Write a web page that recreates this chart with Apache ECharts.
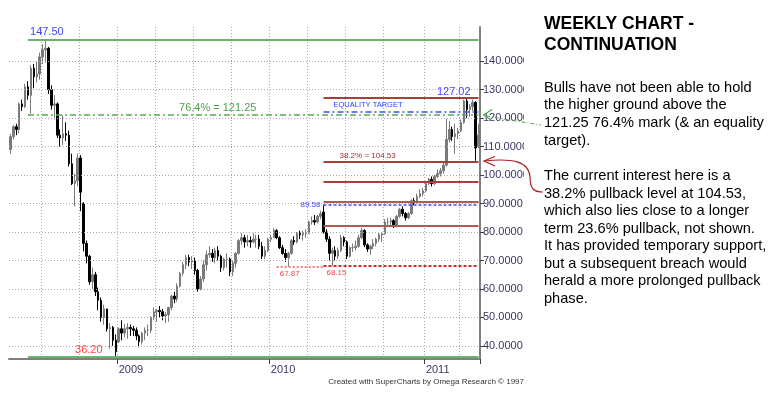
<!DOCTYPE html>
<html>
<head>
<meta charset="utf-8">
<script src="https://cdn.jsdelivr.net/npm/echarts@6/dist/echarts.min.js"></script>
<style>
html, body { margin: 0; padding: 0; background: #fff; }
#chart { width: 777px; height: 399px; }
</style>
</head>
<body>
<div id="chart"></div>
<script>
// weekly bars, Friday dates from startWeek; each bar is [open, close, low, high]
const startWeek = '2008-04-18'

const bars2008 = [
  [109, 113.5, 107.5, 114.5], [113.5, 117, 112.5, 117.5], [117, 116, 114, 118], [116, 125, 114.6, 125.5],
  [125, 124, 122.5, 126.5], [124, 131, 123.5, 132], [131, 128, 126.5, 133], [128, 137.5, 121.6, 138.5],
  [137.5, 134.5, 130.5, 139], [134.5, 135.5, 132.5, 140], [135.5, 141.5, 133.5, 143], [141.5, 144, 139, 146],
  [144, 144.5, 139.5, 147.5], [144.5, 130, 128.5, 145], [130, 124.5, 123, 131.5], [124.5, 125, 119.5, 128],
  [125, 114, 113, 125.5], [114, 113, 110, 116], [113, 114.5, 110.5, 121], [114.5, 114, 112, 118.5],
  [114, 104, 103, 115.6], [104, 97, 96.5, 107.5], [97, 98, 89, 100.5], [98, 106, 96, 107.5],
  [106, 94, 87.3, 107], [90, 76, 73.2, 90.5], [76, 71.5, 69, 77], [71.5, 62.5, 61.5, 72],
  [62.5, 65, 60, 67.5], [65, 59, 57.5, 66], [59, 56, 52.5, 60.5], [56, 50, 48.5, 57],
  [50, 53, 47.4, 54.5], [53, 46, 45, 53], [46, 46.5, 39, 48], [46.5, 42, 40, 47],
  [42, 38, 36.2, 44]
]

const bars2009 = [
  [41.5, 46, 41, 46.5], [46, 44.5, 42, 49], [44.5, 46, 43, 47.7], [46, 46.5, 42.5, 48],
  [46.5, 46, 43.5, 47.5], [46, 45.5, 43.5, 47], [45.5, 43.5, 42, 46.5], [43.5, 41.5, 39.5, 44],
  [41.5, 44.5, 40.5, 45], [44.5, 45.5, 42, 46.5], [45.5, 45.5, 43.5, 47.5], [45.5, 50, 44.5, 50.5],
  [50, 52, 49, 53.5], [52, 52.5, 48.5, 53], [52.5, 52, 50, 54], [52, 50.5, 49, 53],
  [50.5, 51, 48, 52], [51, 53.5, 48.5, 53.5], [53.5, 57.5, 52.5, 58], [57.5, 56.5, 55, 59],
  [56.5, 61, 55.5, 62], [61, 65.5, 60.5, 66], [65.5, 68.5, 64.5, 69.5], [68.5, 71, 67, 72],
  [71, 69.5, 68, 72], [69.5, 70, 67, 71.5], [70, 66.5, 65, 71], [66.5, 60, 59, 67],
  [60, 63.5, 59.5, 64.5], [63.5, 68.5, 62.5, 70], [68.5, 72, 66.5, 73.5], [72, 72.5, 71, 75],
  [72.5, 71, 69.5, 74], [71, 73.5, 69, 74.5], [73.5, 71.5, 70, 75], [71.5, 67.5, 66, 72],
  [67.5, 70.5, 66.5, 71], [70.5, 70.5, 67.5, 72.5], [70.5, 66, 64.5, 71], [66, 69, 64.5, 70],
  [69, 72.5, 67.5, 73], [72.5, 77, 72, 77.5], [77, 78, 75.5, 79.6], [78, 76.5, 74.5, 79],
  [76.5, 77, 75, 79], [77, 76.5, 74.5, 78.5], [76.5, 77.5, 76, 79.5], [77.5, 77.5, 74.5, 79],
  [77.5, 75, 74, 79], [75, 71.5, 70.5, 76.5], [71.5, 73.5, 70.5, 75], [73.5, 77.5, 73, 78]
]

const bars2010 = [
  [77.5, 78, 76.5, 79], [78, 80.5, 78, 81.3], [80.5, 78, 77.5, 81], [78, 74.5, 74, 78.5],
  [74.5, 72.5, 72, 75.5], [72.5, 71, 69.5, 74], [71, 72.5, 67.87, 73], [72.5, 77, 72, 77.5],
  [77, 76.5, 75.5, 78.5], [76.5, 79.5, 76, 80], [79.5, 79, 77.5, 80.5], [79, 79.5, 77, 80.5],
  [79.5, 79.5, 78, 81], [79.5, 83.5, 79.5, 84], [83.5, 84, 82.6, 85.5], [84, 83.5, 82.5, 86],
  [83.5, 85.5, 83, 86], [85.5, 86.5, 84.5, 87.5], [87, 80, 79.4, 89.58], [80, 77.5, 76.5, 81],
  [77.5, 72.5, 70, 78.5], [72.5, 73.5, 68.15, 74.5], [73.5, 71.5, 70, 75], [71.5, 73.5, 70.5, 74.5],
  [73.5, 78, 73, 79], [78, 76.5, 75, 78.5], [76.5, 71.5, 70.5, 77], [71.5, 74.5, 71, 75],
  [74.5, 74.5, 73, 76], [74.5, 75, 73.5, 77], [75, 78, 74.5, 79], [78, 80.5, 77.5, 81.4],
  [80.5, 75.5, 74.7, 81], [75.5, 74, 73, 76], [74, 75, 72, 75.5], [75, 76, 74, 77.5],
  [76, 77.5, 75, 78], [77.5, 79, 76.5, 80], [79, 79.5, 76.5, 80], [79.5, 83.5, 79, 84.5],
  [83.5, 83.5, 82, 85], [83.5, 84, 82, 85], [84, 82.5, 81.4, 84.5], [82.5, 85.5, 82, 86],
  [85.5, 88, 85, 88.5], [88, 86.5, 85.5, 89], [86.5, 85, 84, 87], [85, 86.5, 84.5, 87],
  [86.5, 91, 86, 91.5], [91, 90.5, 89.5, 92], [90.5, 92.5, 90, 93.5], [92.5, 93.5, 92, 95],
  [93.5, 94.5, 92.5, 95.5]
]

const bars2011 = [
  [94.5, 97, 94, 97.5], [97, 98.5, 96.5, 99], [98.5, 97, 96, 99.5], [97, 99.5, 96.5, 100],
  [99.5, 100.5, 99, 102], [100.5, 101.5, 99.5, 102.5], [101.5, 103.5, 100.5, 104.5], [103.5, 112.5, 103, 119.8],
  [112.5, 116, 111.5, 119], [116, 113.5, 112, 117], [113.5, 114.5, 107.5, 118], [114.5, 115.5, 112.5, 116.5],
  [115.5, 118.5, 115, 119.5], [118.5, 126, 118, 126.5], [126, 123, 120, 127.02], [123, 124, 120.5, 125],
  [124, 125.5, 122.5, 126.5], [125.5, 109.5, 105, 126], [110, 114, 109.5, 118]
]

const yTicks = [40, 50, 60, 70, 80, 90, 100, 110, 120, 130, 140]

// annotated levels
const peakHigh = 147.50
const crashLow = 36.20
const retrace764 = 121.25
const equalityTarget = 122.3
const fibLevels = [127.02, 104.53, 97.59, 90.64, 82.04]
const swingHigh = 89.58
const lowFeb = 67.87
const lowMay = 68.15

const ohlc = bars2008.concat(bars2009, bars2010, bars2011)
const weeks = []
const t0 = new Date(startWeek + 'T00:00:00Z').getTime()
for (let i = 0; i < ohlc.length; i++) {
  weeks.push(new Date(t0 + i * 7 * 86400000).toISOString().slice(0, 10))
}
const last = weeks[weeks.length - 1]

const isYearStart = (i) => i > 0 && weeks[i].slice(0, 4) !== weeks[i - 1].slice(0, 4)
const quarterOf = (s) => s.slice(0, 4) + Math.floor((+s.slice(5, 7) - 1) / 3)
const isQuarterStart = (i) => i > 0 && quarterOf(weeks[i]) !== quarterOf(weeks[i - 1])

const font = "'Liberation Sans', Arial, sans-serif"
const gridDots = { color: '#a9a9a9', width: 1, type: [1, 2] }

function level (fromIdx, value, lineStyle, label) {
  return [
    { coord: [weeks[fromIdx], value], lineStyle, label: Object.assign({ fontFamily: font }, label) },
    { coord: [last, value] }
  ]
}

const noLabel = { show: false }

const option = {
  animation: false,
  backgroundColor: '#fff',
  grid: { left: 9, right: 297, top: 27, bottom: 40, containLabel: false, outerBoundsMode: 'none' },
  xAxis: {
    type: 'category',
    data: weeks,
    boundaryGap: true,
    axisLine: { show: true, lineStyle: { color: '#808080', width: 2 } },
    axisTick: {
      show: true,
      interval: (i) => isYearStart(i),
      length: 5,
      lineStyle: { color: '#404040' }
    },
    axisLabel: {
      interval: (i) => isYearStart(i),
      formatter: (v) => v.slice(0, 4),
      align: 'left',
      margin: 5,
      color: '#3c3464',
      fontSize: 11,
      fontFamily: font
    },
    splitLine: {
      show: true,
      interval: (i) => isQuarterStart(i),
      lineStyle: gridDots
    }
  },
  yAxis: {
    type: 'value',
    position: 'right',
    min: 35.4,
    max: 152,
    axisLine: { show: true, lineStyle: { color: '#808080', width: 2 } },
    axisTick: { show: true, customValues: yTicks, length: 4, lineStyle: { color: '#404040' } },
    axisLabel: {
      customValues: yTicks,
      formatter: (v) => v.toFixed(4),
      color: '#3c3464',
      fontSize: 11,
      margin: 3,
      fontFamily: font
    },
    splitLine: { show: false }
  },
  series: [
    {
      // horizontal dotted grid at each price tick
      type: 'line',
      data: [],
      z: 0,
      silent: true,
      markLine: {
        silent: true,
        symbol: 'none',
        animation: false,
        label: { show: false },
        lineStyle: gridDots,
        data: yTicks.map((v) => ({ yAxis: v }))
      }
    },
    {
      type: 'candlestick',
      data: ohlc,
      barWidth: 2,
      z: 2,
      itemStyle: {
        color: '#7a7a7a',
        color0: '#000000',
        borderColor: '#7a7a7a',
        borderColor0: '#000000',
        borderColorDoji: '#7a7a7a',
        borderWidth: 1
      },
      markLine: {
        silent: true,
        symbol: 'none',
        animation: false,
        data: [
          level(6, peakHigh, { color: '#6cb46c', width: 2, type: 'solid' },
            { show: true, formatter: '147.50', position: 'insideStartTop', color: '#4646ff', fontSize: 11, distance: 2 }),
          level(6, crashLow, { color: '#6cb46c', width: 2, type: 'solid' },
            { show: true, formatter: '36.20', position: 'insideStartTop', color: '#ff4848', fontSize: 11, distance: 1, padding: [0, 0, 0, 46] }),
          level(6, retrace764, { color: '#5aa85a', width: 1.5, type: [6, 3, 2, 3] },
            { show: true, formatter: '76.4% = 121.25', position: 'insideStartTop', color: '#50a050', fontSize: 11, distance: 1, padding: [0, 0, 0, 150] }),
          level(107, equalityTarget, { color: '#3a50ff', width: 1.5, type: [6, 3, 2, 3] },
            { show: true, formatter: 'EQUALITY TARGET', position: 'insideStartTop', color: '#2a3cff', fontSize: 7.5, distance: 3, padding: [0, 0, 0, 7] }),
          level(107, fibLevels[0], { color: '#a8403a', width: 2, type: 'solid' },
            { show: true, formatter: '127.02', position: 'insideEndTop', color: '#4646ff', fontSize: 11, distance: 1, padding: [0, 7, 0, 0] }),
          level(107, fibLevels[1], { color: '#a8403a', width: 2, type: 'solid' },
            { show: true, formatter: '38.2% = 104.53', position: 'insideStartTop', color: '#a03030', fontSize: 8, distance: 2, padding: [0, 0, 0, 14] }),
          level(107, fibLevels[2], { color: '#a8403a', width: 2, type: 'solid' }, noLabel),
          level(107, fibLevels[3], { color: '#b05a56', width: 2, type: 'solid' }, noLabel),
          level(107, fibLevels[4], { color: '#b05a56', width: 2, type: 'solid' }, noLabel),
          level(107, swingHigh, { color: '#4646ff', width: 1.5, type: [3, 2] },
            { show: true, formatter: '89.58', position: 'start', color: '#4646ff', fontSize: 8, distance: 3, padding: [0, 0, 9, 0] }),
          [
            { coord: [weeks[91], lowFeb], lineStyle: { color: '#ff5050', width: 1.5, type: [2, 2] },
              label: { show: true, formatter: '67.87', position: 'insideStartBottom', color: '#ff4848', fontSize: 8, distance: 3, fontFamily: font } },
            { coord: [weeks[107], lowFeb] }
          ],
          level(107, lowMay, { color: '#e02828', width: 2, type: [3, 2] },
            { show: true, formatter: '68.15', position: 'insideStartBottom', color: '#ff4848', fontSize: 8, distance: 3 })
        ]
      }
    }
  ],
  graphic: [
    // text box covering the right end of the price labels
    { type: 'rect', left: 524, top: 0, shape: { width: 253, height: 399 }, style: { fill: '#fff' }, z: 100 },
    {
      type: 'text', left: 544, top: 14, z: 101,
      style: { text: 'WEEKLY CHART -\nCONTINUATION', font: "bold 17.5px 'Liberation Sans', Arial", fill: '#000', lineHeight: 21 }
    },
    {
      type: 'text', left: 544, top: 79, z: 101,
      style: {
        text: 'Bulls have not been able to hold\nthe higher ground above the\n121.25 76.4% mark (& an equality\ntarget).',
        font: "14.6px 'Liberation Sans', Arial", fill: '#000', lineHeight: 17.6
      }
    },
    {
      type: 'text', left: 544, top: 167.5, z: 101,
      style: {
        text: 'The current interest here is a\n38.2% pullback level at 104.53,\nwhich also lies close to a longer\nterm 23.6% pullback, not shown.\nIt has provided temporary support,\nbut a subsequent breach would\nherald a more prolonged pullback\nphase.',
        font: "14.6px 'Liberation Sans', Arial", fill: '#000', lineHeight: 17.5
      }
    },
    {
      type: 'text', right: 253, top: 378, z: 101,
      style: { text: 'Created with SuperCharts by Omega Research \u00a9 1997', font: "8px 'Liberation Sans', Arial", fill: '#333' }
    },
    // green pointer to the 121.25 line
    { type: 'polyline', z: 102, shape: { points: [[492, 109.5], [483.5, 115], [491, 120]] }, style: { stroke: '#4caa4c', lineWidth: 1.2, fill: null } },
    { type: 'line', z: 102, shape: { x1: 486, y1: 116, x2: 541, y2: 125 }, style: { stroke: '#4caa4c', lineWidth: 1, lineDash: [4, 2, 1, 2] } },
    // red pointer to the 104.53 line
    { type: 'polyline', z: 102, shape: { points: [[495, 156.5], [484, 161], [495, 166]] }, style: { stroke: '#b02020', lineWidth: 1.2, fill: null } },
    { type: 'bezierCurve', z: 102, shape: { x1: 484, y1: 161, cpx1: 512, cpy1: 158, cpx2: 529, cpy2: 161, x2: 530, y2: 177 }, style: { stroke: '#b02020', lineWidth: 1.2, fill: null } },
    { type: 'bezierCurve', z: 102, shape: { x1: 530, y1: 177, cpx1: 530, cpy1: 189, cpx2: 534, cpy2: 192, x2: 543, y2: 192 }, style: { stroke: '#b02020', lineWidth: 1.2, fill: null } }
  ]
}

const chart = echarts.init(document.getElementById('chart'), null, { renderer: 'canvas' })
chart.setOption(option)
</script>
</body>
</html>
